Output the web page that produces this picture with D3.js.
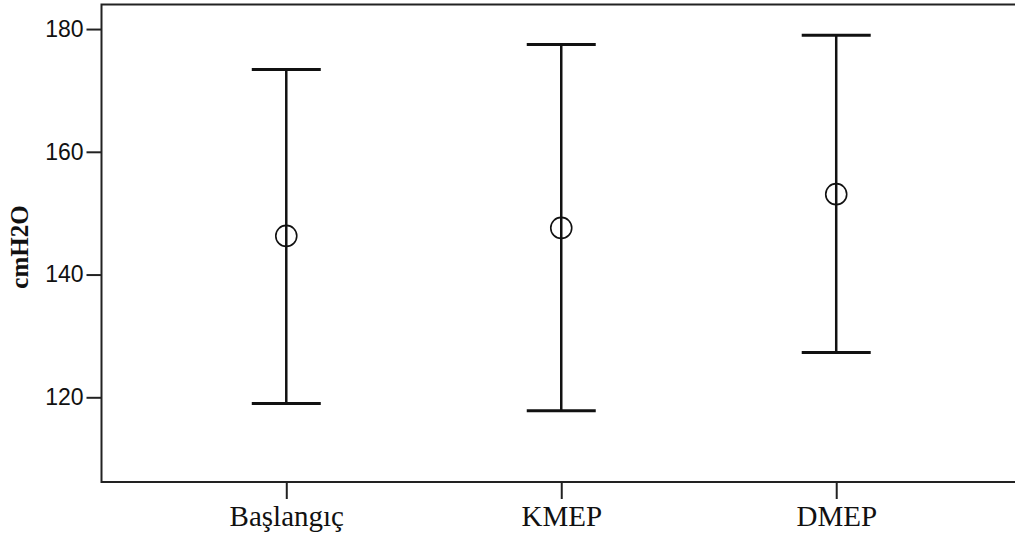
<!DOCTYPE html>
<html>
<head>
<meta charset="utf-8">
<script src="https://cdn.jsdelivr.net/npm/d3@7"></script>
<style>
  body { margin: 0; background: #fff; }
  svg { display: block; }
</style>
</head>
<body>
<svg id="svg" width="1015" height="539"></svg>
<script>
// groups and their error-bar values (cmH2O)
const categories = ["Başlangıç", "KMEP", "DMEP"]
const means = [146.3, 147.6, 153.1]
const upper = [173.4, 177.5, 179.0]
const lower = [119.0, 117.8, 127.3]
const yTicks = [120, 140, 160, 180]

const svg = d3.select("#svg")
const plotLeft = 101.5, plotRight = 1021, plotTop = 4.5, plotBottom = 482

const x = d3.scalePoint()
  .domain(categories)
  .range([plotLeft, plotRight])
  .padding(0.672)

const y = d3.scaleLinear()
  .domain([106.2, 184])
  .range([plotBottom, plotTop])

const rows = categories.map((c, i) => ({c: c, m: means[i], hi: upper[i], lo: lower[i]}))

// frame
svg.append("rect")
  .attr("x", plotLeft).attr("y", plotTop)
  .attr("width", plotRight - plotLeft).attr("height", plotBottom - plotTop)
  .attr("fill", "none").attr("stroke", "#222").attr("stroke-width", 2)

// y axis
const yAxis = svg.append("g")
  .attr("transform", "translate(" + plotLeft + ",0)")
  .call(d3.axisLeft(y).tickValues(yTicks).tickSize(15).tickPadding(3))
yAxis.select(".domain").remove()
yAxis.selectAll("line").attr("stroke", "#222").attr("stroke-width", 2)
yAxis.selectAll("text")
  .attr("fill", "#111")
  .style("font-family", "'Liberation Sans Narrow', 'Liberation Sans', Arial, sans-serif")
  .style("font-size", "23px")

// x axis
const xAxis = svg.append("g")
  .attr("transform", "translate(0," + plotBottom + ")")
  .call(d3.axisBottom(x).tickSize(17).tickPadding(6))
xAxis.select(".domain").remove()
xAxis.selectAll("line").attr("stroke", "#222").attr("stroke-width", 2)
xAxis.selectAll("text")
  .attr("fill", "#111")
  .style("font-family", "'Liberation Serif', 'Times New Roman', serif")
  .style("font-size", "29px")

// y title
svg.append("text")
  .attr("transform", "translate(28,247) rotate(-90)")
  .attr("text-anchor", "middle")
  .style("font-family", "'Liberation Serif', 'Times New Roman', serif")
  .style("font-weight", "bold")
  .style("font-size", "25px")
  .attr("fill", "#111")
  .text("cmH2O")

// error bars
const bars = svg.append("g").selectAll("g")
  .data(rows)
  .enter().append("g")

bars.append("line")
  .attr("x1", d => x(d.c)).attr("x2", d => x(d.c))
  .attr("y1", d => y(d.hi)).attr("y2", d => y(d.lo))
  .attr("stroke", "#111").attr("stroke-width", 2.5)

bars.selectAll(".cap")
  .data(d => [{c: d.c, v: d.hi}, {c: d.c, v: d.lo}])
  .enter().append("line")
  .attr("class", "cap")
  .attr("x1", d => x(d.c) - 34.5).attr("x2", d => x(d.c) + 34.5)
  .attr("y1", d => y(d.v)).attr("y2", d => y(d.v))
  .attr("stroke", "#111").attr("stroke-width", 3)

bars.append("circle")
  .attr("cx", d => x(d.c)).attr("cy", d => y(d.m))
  .attr("r", 10.5)
  .attr("fill", "none").attr("stroke", "#111").attr("stroke-width", 1.6)
</script>
</body>
</html>
